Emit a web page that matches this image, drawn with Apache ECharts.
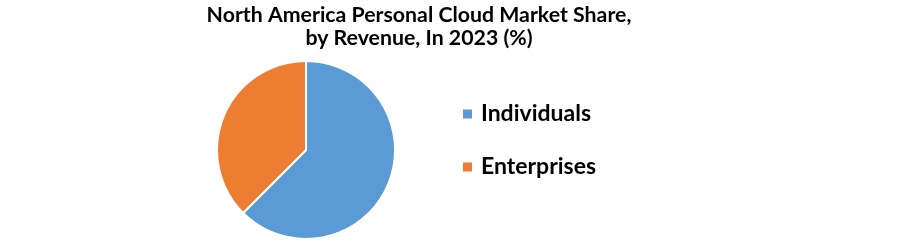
<!DOCTYPE html>
<html><head><meta charset="utf-8">
<script src="https://cdn.jsdelivr.net/npm/echarts@6/dist/echarts.min.js"></script>
<style>html,body{margin:0;padding:0;background:#fff}#c{width:900px;height:243px}</style>
</head><body><div id="c"></div>
<script>
const categories = ['Individuals', 'Enterprises'];
const shares = [62.5, 37.5];
const colors = ['#5B9BD5', '#ED7D31'];
const titleLines = ['North America Personal Cloud Market Share,', 'by Revenue, In 2023 (%)'];

const chart = echarts.init(document.getElementById('c'));
chart.setOption({
  animation: false,
  backgroundColor: '#fff',
  title: {
    text: titleLines.join('\n'), left: 419, top: 4, textAlign: 'center', padding: 0,
    textStyle: { fontFamily: 'Lato', fontWeight: 'bold', fontSize: 21.3, lineHeight: 23, color: '#000' }
  },
  legend: {
    orient: 'vertical', left: 461, top: 102.5, itemGap: 30, padding: 0,
    itemWidth: 11, itemHeight: 11, icon: 'rect',
    textStyle: { fontFamily: 'Lato', fontWeight: 'bold', fontSize: 23, lineHeight: 23, color: '#000', padding: [0,0,0,3] },
    data: categories
  },
  series: [{
    type: 'pie', center: [306, 150], radius: 89, startAngle: 90, clockwise: true,
    label: { show: false }, labelLine: { show: false },
    itemStyle: { borderColor: '#fff', borderWidth: 2 },
    data: categories.map((c, i) => ({ name: c, value: shares[i], itemStyle: { color: colors[i] } }))
  }]
});
</script></body></html>
